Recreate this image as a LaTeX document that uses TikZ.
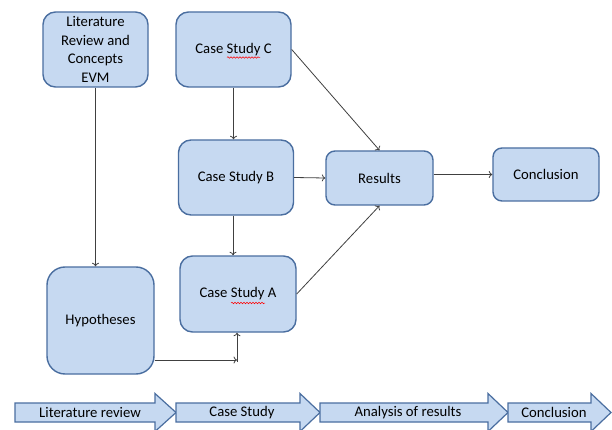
\documentclass[tikz,border=0pt]{standalone}
\usepackage{fontspec}
\setmainfont{Carlito}
\usetikzlibrary{arrows.meta,decorations.pathmorphing}
\definecolor{boxfill}{RGB}{198,217,241}
\definecolor{boxline}{RGB}{74,110,160}
\definecolor{conn}{RGB}{64,64,64}
\tikzset{
  box/.style={draw=boxline, fill=boxfill, line width=1.4pt, align=center,
    inner sep=0pt, font=\fontsize{14.7}{18.5}\selectfont},
  arr/.style={draw=conn, line width=0.8pt, -{To[length=3.5pt,width=7pt]}},
  barrow/.style={draw=boxline, fill=boxfill, line width=1.2pt, line join=miter},
  blabel/.style={inner sep=0pt, font=\fontsize{14.7}{18}\selectfont},
  squig/.style={draw=red, line width=0.5pt, decorate,
    decoration={snake, amplitude=0.8pt, segment length=3pt}}
}
\begin{document}
\begin{tikzpicture}[x=1pt,y=-1pt]
\useasboundingbox (0,0) rectangle (612,430);
\fill[white] (0,0) rectangle (612,430);

\node[box, rounded corners=12.5pt, minimum width=105pt, minimum height=75pt] (lit) at (95.5,49.5)
  {Literature\\Review and\\Concepts\\EVM};
\node[box, rounded corners=12.5pt, minimum width=115pt, minimum height=75pt] (csc) at (233.5,49.5) {Case Study C};
\node[box, rounded corners=12.5pt, minimum width=115pt, minimum height=75pt] (csb) at (236,177.5) {Case Study B};
\node[box, rounded corners=12.5pt, minimum width=116pt, minimum height=76pt] (csa) at (238,294) {Case Study A};
\node[box, rounded corners=18pt, minimum width=107pt, minimum height=107pt] (hyp) at (100.5,320.5) {Hypotheses};
\node[box, rounded corners=9pt, minimum width=107pt, minimum height=54pt] (res) at (379.5,178) {Results};
\node[box, rounded corners=9pt, minimum width=106pt, minimum height=53pt] (con) at (546,174.5) {Conclusion};

% spell-check squiggles
\draw[squig] ([xshift=-6.5pt,yshift=-8pt]csc.center) -- ([xshift=26.5pt,yshift=-8pt]csc.center);
\draw[squig] ([xshift=-7pt,yshift=-9pt]csa.center) -- ([xshift=27pt,yshift=-9pt]csa.center);

% connectors
\draw[arr] (lit.south) -- (lit.south |- hyp.north);
\draw[arr] (csc.south) -- (csc.south |- csb.north);
\draw[arr] ([xshift=-3pt]csb.south) -- ([xshift=-3pt]csb.south |- csa.north);
\coordinate (k) at (237,360);
\draw[arr] (hyp.east |- k) -- (k);
\draw[arr] ([yshift=-2pt]k) -- (k |- csa.south);
\draw[arr] (csc.east) -- (res.north);
\draw[arr] (csb.east) -- (res.west);
\draw[arr] (csa.east) -- (res.south);
\draw[arr] (res.east |- con.west) -- (con.west);

% bottom phase arrows
\draw[barrow] (15,403) -- (155,403) -- (155,393.5) -- (176,412.5) -- (155,431.5) -- (155,422) -- (15,422) -- cycle;
\draw[barrow] (176,403) -- (300,403) -- (300,393.5) -- (320,412.5) -- (300,431.5) -- (300,422) -- (176,422) -- cycle;
\draw[barrow] (320,403) -- (488,403) -- (488,393.5) -- (508,412.5) -- (488,431.5) -- (488,422) -- (320,422) -- cycle;
\draw[barrow] (508,403) -- (591,403) -- (591,393.5) -- (611,412.5) -- (591,431.5) -- (591,422) -- (508,422) -- cycle;
\node[blabel] (p1) at (90,412.5) {Literature review};
\node[blabel] (p2) at (242,412.5) {Case Study};
\node[blabel] (p3) at (408,412.5) {Analysis of results};
\node[blabel] (p4) at (554,412.5) {Conclusion};
\end{tikzpicture}
\end{document}
